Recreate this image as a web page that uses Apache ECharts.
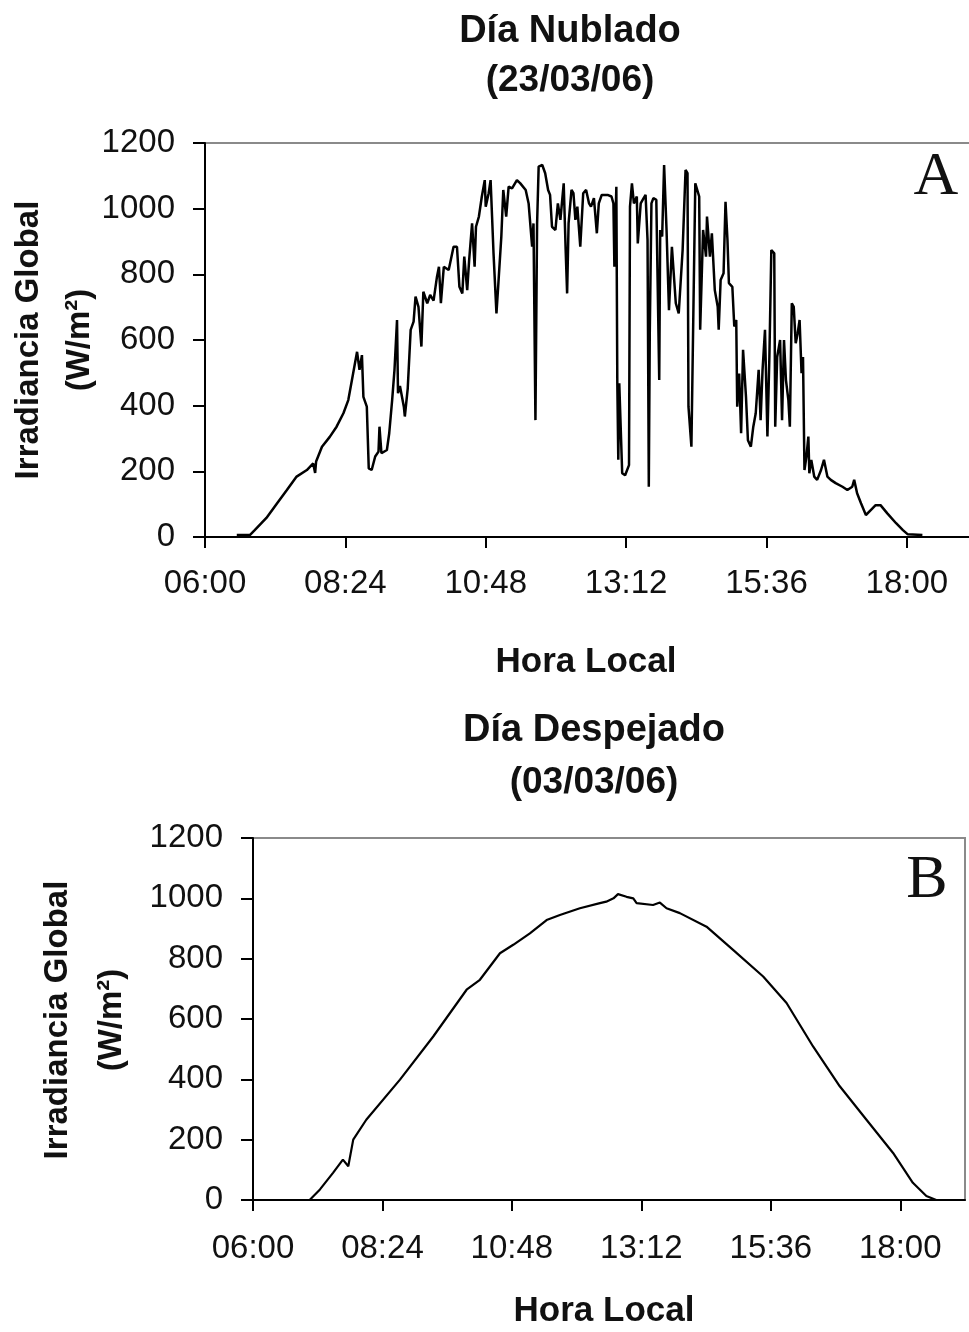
<!DOCTYPE html>
<html>
<head>
<meta charset="utf-8">
<script src="https://cdn.jsdelivr.net/npm/echarts@6/dist/echarts.min.js"></script>
<style>
  html, body { margin: 0; padding: 0; background: #ffffff; }
  #chart { width: 969px; height: 1332px; }
</style>
</head>
<body>
<div id="chart"></div>
<script>
// ---- Data (time in minutes since midnight, irradiance in W/m2) ----
const titleA = "Día Nublado";
const dateA = "(23/03/06)";
const titleB = "Día Despejado";
const dateB = "(03/03/06)";
const xAxisTitle = "Hora Local";
const yAxisTitle1 = "Irradiancia Global";
const yAxisTitle2 = "(W/m²)";
const panelA = "A";
const panelB = "B";

const xTicks = [360, 504, 648, 792, 936, 1080];   // 06:00 ... 18:00
const yTicks = [0, 200, 400, 600, 800, 1000, 1200];

// Cloudy day (23/03/06)
const timesA = [392.6,406,411,423,434,444,454,464.5,471,473,474,480,488,495,502,507,512,516,518.5,521,522.5,526,528,531,534.6,538,539,541,546.6,549,552,554.4,557,558,560,564,565,568,571,574,576,579,582,584,588,591,594.5,598,600,602,605,610,615,618.5,621,624,626,629,631,634,636.6,638,641,644,647,648,651,653,654.5,656,659,661,664,666,669,671.5,675,680,683.5,689,692,695.6,697,699,700.7,702.3,706,709,712,714,716,719.5,722,724.6,728,730,731.5,733,736,738,740,742,745,748,751,754,756,759,762,764,767,773,777,779,780,782,783,784,785,788,791,795,796,798,800,803,804,807,810,812,814,815.3,816.3,818,820,823,826,827,829,831,833.5,836,839,843,846,850,853,855,856,859,861,863,867,868,871,874,875,878,880,883,886,887,889,892,894,896,897.5,901,903,905,906,908,910,912,915,917,920,922.5,925,928,930,932,934.5,937,939,941,944,945,947,950,952,954,956,958.5,960,962,964,966,968,970,972,973.5,975,977,979,980,982,985,988,992,995,998.5,1002,1007,1014,1019,1024,1026,1029,1033,1038,1043,1048,1053,1060,1069,1076,1081,1096];
const valuesA = [6,6,21,58,103,143,184,204,224,195,230,275,305,336,377,417,499,564,509,554,427,397,209,204,245,260,336,255,265,316,417,509,661,438,460,397,367,453,631,656,732,701,580,747,712,737,720,793,823,712,823,813,884,884,762,742,854,752,844,955,823,945,976,1037,1087,1006,1047,1087,976,864,681,773,915,1057,976,1067,1062,1087,1077,1057,1016,884,955,356,955,1128,1133,1108,1057,1042,945,935,1016,966,1077,874,742,955,1057,1047,966,1006,884,1047,1057,1016,1006,1032,925,1016,1042,1042,1037,1016,823,1067,468,235,468,194,188,219,1006,1077,1016,1037,894,1016,1032,1042,905,153,620,1016,1032,1027,478,935,915,1133,935,691,884,712,681,874,1118,1108,397,275,681,1077,1037,631,935,854,976,854,925,752,701,631,783,803,1021,905,773,762,641,661,397,498,316,570,427,295,275,336,377,509,356,509,631,306,548,874,864,336,548,600,356,600,478,417,336,712,701,590,620,661,499,548,204,245,306,194,235,184,174,204,235,184,174,164,153,143,153,174,133,103,67,82,97,97,72,42,21,8,6];

// Clear day (03/03/06)
const timesB = [412,423,434.5,449,460,466,471.5,486,523.5,560.5,597.6,612.4,634.7,649.5,668,686.6,701.4,723.6,745.9,753,761,766,775.5,783,786.7,805,812.6,820,834.8,864.5,894,927.5,953.5,983,1012.7,1042.4,1072,1094,1109,1120];
const valuesB = [0,0,35,90,134,112,200,266,399,542,697,730,818,846,884,928,945,967,984,989,1000,1014,1005,1000,984,978,986,967,951,906,829,741,653,509,377,266,156,57,13,0];

// ---- Build chart ----
const pairs = (xs, ys) => xs.map((x, i) => [x, ys[i]]);
const fmtTime = v => {
  const h = Math.floor(v / 60), m = Math.round(v % 60);
  return String(h).padStart(2, '0') + ':' + String(m).padStart(2, '0');
};
const SANS = "'Liberation Sans', Arial, sans-serif";
const SERIF = "'Liberation Serif', 'Times New Roman', serif";
const TXT = '#111';

function xAxisFor(gridIndex, margin) {
  return {
    type: 'value', gridIndex, min: 360, max: 1152, interval: 144,
    axisLine: { show: true, lineStyle: { color: '#000', width: 2 } },
    axisTick: { show: true, inside: false, length: 11, customValues: xTicks, lineStyle: { color: '#000', width: 2 } },
    axisLabel: { show: true, customValues: xTicks, formatter: fmtTime, margin, fontSize: 33, fontFamily: SANS, color: TXT },
    splitLine: { show: false }
  };
}
function yAxisFor(gridIndex) {
  return {
    type: 'value', gridIndex, min: 0, max: 1200, interval: 200,
    axisLine: { show: true, lineStyle: { color: '#000', width: 2 } },
    axisTick: { show: true, inside: false, length: 12, customValues: yTicks, lineStyle: { color: '#000', width: 2 } },
    axisLabel: { show: true, customValues: yTicks, formatter: v => String(v), margin: 30, fontSize: 33, fontFamily: SANS, color: TXT },
    splitLine: { show: false }
  };
}
function txt(text, x, y, size, weight, family, rot) {
  return {
    type: 'text', x, y, rotation: rot || 0, silent: true,
    style: { text, fontSize: size, fontWeight: weight, fontFamily: family, fill: TXT, align: 'center', verticalAlign: 'middle' }
  };
}

const option = {
  animation: false,
  backgroundColor: '#ffffff',
  grid: [
    { left: 205, top: 143, width: 772, height: 394, containLabel: false, outerBoundsMode: 'none', show: true, borderColor: '#8a8a8a', borderWidth: 2, backgroundColor: 'transparent' },
    { left: 253, top: 838, width: 712, height: 362, containLabel: false, outerBoundsMode: 'none', show: true, borderColor: '#8a8a8a', borderWidth: 2, backgroundColor: 'transparent' }
  ],
  xAxis: [xAxisFor(0, 30), xAxisFor(1, 32)],
  yAxis: [yAxisFor(0), yAxisFor(1)],
  series: [
    { type: 'line', xAxisIndex: 0, yAxisIndex: 0, data: pairs(timesA, valuesA), showSymbol: false, lineStyle: { color: '#000', width: 2.5 }, z: 5 },
    { type: 'line', xAxisIndex: 1, yAxisIndex: 1, data: pairs(timesB, valuesB), showSymbol: false, lineStyle: { color: '#000', width: 2.2 }, z: 5 }
  ],
  graphic: [
    txt(titleA, 570, 32, 38, 'bold', SANS),
    txt(dateA, 570, 81, 37, 'bold', SANS),
    txt(xAxisTitle, 586, 662, 35, 'bold', SANS),
    txt(yAxisTitle1, 29, 340, 33, 'bold', SANS, Math.PI / 2),
    txt(yAxisTitle2, 80, 340, 33, 'bold', SANS, Math.PI / 2),
    txt(panelA, 936, 178, 62, 'normal', SERIF),
    txt(titleB, 594, 731, 38, 'bold', SANS),
    txt(dateB, 594, 783, 37, 'bold', SANS),
    txt(xAxisTitle, 604, 1311, 35, 'bold', SANS),
    txt(yAxisTitle1, 58, 1020, 33, 'bold', SANS, Math.PI / 2),
    txt(yAxisTitle2, 112, 1020, 33, 'bold', SANS, Math.PI / 2),
    txt(panelB, 927, 881, 62, 'normal', SERIF)
  ]
};

const chart = echarts.init(document.getElementById('chart'), null, { renderer: 'canvas', width: 969, height: 1332 });
chart.setOption(option);
</script>
</body>
</html>
